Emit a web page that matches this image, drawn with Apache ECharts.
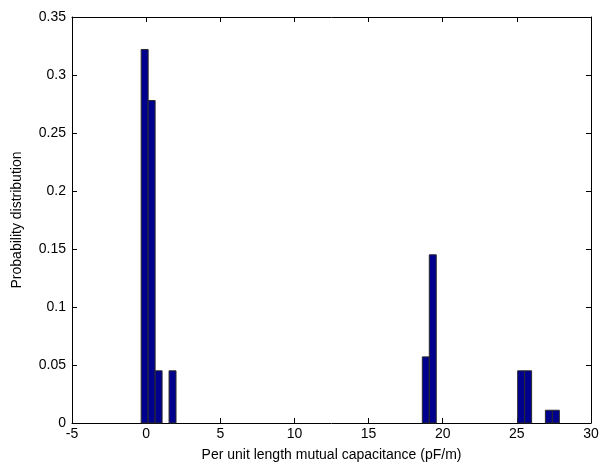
<!DOCTYPE html>
<html>
<head>
<meta charset="utf-8">
<script src="https://cdn.jsdelivr.net/npm/echarts@6/dist/echarts.min.js"></script>
<style>
  html, body { margin: 0; padding: 0; background: #fff; }
  #main { width: 602px; height: 467px; }
</style>
</head>
<body>
<div id="main"></div>
<script>
// bin centres (pF/m) and probability of each bin
var binCenters = [-0.10, 0.37, 0.84, 1.78, 18.86, 19.33, 25.29, 25.76, 27.16, 27.63];
var probs = [0.322, 0.278, 0.045, 0.045, 0.057, 0.145, 0.045, 0.045, 0.011, 0.011];
var binWidth = 0.47;
var xTicks = [-5, 0, 5, 10, 15, 20, 25, 30];
var yTicks = [0, 0.05, 0.1, 0.15, 0.2, 0.25, 0.3, 0.35];

var myChart = echarts.init(document.getElementById('main'));

var data = binCenters.map(function (c, i) { return [c, probs[i]]; });
var font = 'Liberation Sans, Arial, sans-serif';

var option = {
    backgroundColor: '#fff',
    animation: false,
    grid: { left: 72, right: 11, top: 17, bottom: 40 },
    xAxis: [{
        type: 'value',
        min: xTicks[0],
        max: xTicks[xTicks.length - 1],
        interval: 5,
        name: 'Per unit length mutual capacitance (pF/m)',
        nameLocation: 'middle',
        nameGap: 25,
        nameTextStyle: { color: '#000', fontSize: 14, fontFamily: font },
        axisLine: { onZero: false, lineStyle: { color: '#000', width: 1 } },
        axisTick: { inside: true, length: 5, lineStyle: { color: '#000' } },
        axisLabel: { color: '#000', fontSize: 14, fontFamily: font, margin: 4 },
        splitLine: { show: false }
    }, {
        type: 'value',
        position: 'top',
        min: xTicks[0],
        max: xTicks[xTicks.length - 1],
        interval: 5,
        axisLine: { onZero: false, lineStyle: { color: '#000', width: 1 } },
        axisTick: { inside: true, length: 5, lineStyle: { color: '#000' } },
        axisLabel: { show: false },
        splitLine: { show: false }
    }],
    yAxis: [{
        type: 'value',
        min: 0,
        max: 0.35,
        interval: 0.05,
        name: 'Probability distribution',
        nameLocation: 'middle',
        nameGap: 48,
        nameTextStyle: { color: '#000', fontSize: 14, fontFamily: font },
        axisLine: { show: true, onZero: false, lineStyle: { color: '#000', width: 1 } },
        axisTick: { show: true, inside: true, length: 5, lineStyle: { color: '#000' } },
        axisLabel: {
            color: '#000', fontSize: 14, fontFamily: font, margin: 6,
            formatter: function (v) { return String(parseFloat(v.toFixed(2))); }
        },
        splitLine: { show: false }
    }, {
        type: 'value',
        position: 'right',
        min: 0,
        max: 0.35,
        interval: 0.05,
        axisLine: { show: true, onZero: false, lineStyle: { color: '#000', width: 1 } },
        axisTick: { show: true, inside: true, length: 5, lineStyle: { color: '#000' } },
        axisLabel: { show: false },
        splitLine: { show: false }
    }],
    series: [{
        type: 'custom',
        xAxisIndex: 0,
        yAxisIndex: 0,
        data: data,
        renderItem: function (params, api) {
            var x = api.value(0), y = api.value(1);
            var p0 = api.coord([x - binWidth / 2, y]);
            var p1 = api.coord([x + binWidth / 2, 0]);
            return {
                type: 'rect',
                shape: { x: p0[0], y: p0[1], width: p1[0] - p0[0], height: p1[1] - p0[1] },
                style: { fill: '#00008f', stroke: '#2a2a2a', lineWidth: 1 }
            };
        }
    }]
};

myChart.setOption(option);
</script>
</body>
</html>
